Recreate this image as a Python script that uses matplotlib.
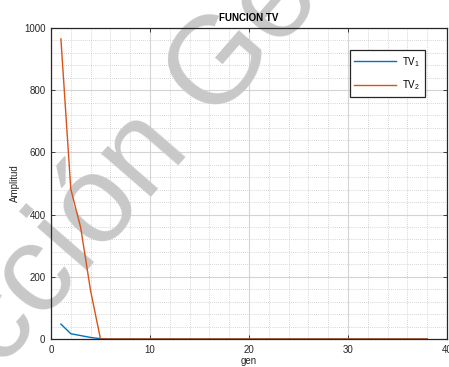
import numpy as np
import matplotlib
matplotlib.use("Agg")
import matplotlib.pyplot as plt
from matplotlib.ticker import MultipleLocator

plt.rcParams["font.family"] = ["Liberation Sans", "DejaVu Sans"]
plt.rcParams["mathtext.fontset"] = "custom"
plt.rcParams["mathtext.rm"] = "Liberation Sans"
plt.rcParams["mathtext.it"] = "Liberation Sans"

# datos
gen = np.arange(1, 39)
tv1 = [48, 17, 11, 5, 1, 0, 0, 0, 0, 0,
       0, 0, 0, 0, 0, 0, 0, 0, 0, 0,
       0, 0, 0, 0, 0, 0, 0, 0, 0, 0,
       0, 0, 0, 0, 0, 0, 0, 0]
tv2 = [965, 482, 358, 155, 0, 0, 0, 0, 0, 0,
       0, 0, 0, 0, 0, 0, 0, 0, 0, 0,
       0, 0, 0, 0, 0, 0, 0, 0, 0, 0,
       0, 0, 0, 0, 0, 0, 0, 0]
labels = [r"TV$_1$", r"TV$_2$"]
colors = ["#0072BD", "#D95319"]

fig = plt.figure(figsize=(4.49, 3.67), dpi=100)
pos = [51 / 449, 1 - 339 / 367, 396 / 449, 311 / 367]

# fondo con rejilla
ax_bg = fig.add_axes(pos, zorder=0)
ax_bg.set_xlim(0, 40)
ax_bg.set_ylim(0, 1000)
ax_bg.xaxis.set_major_locator(MultipleLocator(10))
ax_bg.xaxis.set_minor_locator(MultipleLocator(2))
ax_bg.yaxis.set_major_locator(MultipleLocator(200))
ax_bg.yaxis.set_minor_locator(MultipleLocator(40))
ax_bg.grid(which="major", color="#d4d4d4", lw=0.8, ls="-")
ax_bg.grid(which="minor", color="#c8c8c8", lw=0.6, ls=(0, (1, 1.5)))
ax_bg.tick_params(which="both", length=0, labelleft=False, labelbottom=False)
for s in ax_bg.spines.values():
    s.set_visible(False)

# marca de agua
fig.text(0.421, 0.583, "Selección Genética", fontsize=90, color="#c8c8c8",
         rotation=49, rotation_mode="anchor", ha="center", va="baseline",
         zorder=1)

ax = fig.add_axes(pos, zorder=2)
ax.patch.set_alpha(0)
ax.plot(gen, tv1, color=colors[0], lw=1.0, label=labels[0])
ax.plot(gen, tv2, color=colors[1], lw=1.0, label=labels[1])
ax.set_xlim(0, 40)
ax.set_ylim(0, 1000)
ax.xaxis.set_major_locator(MultipleLocator(10))
ax.yaxis.set_major_locator(MultipleLocator(200))
ax.tick_params(direction="in", length=3, width=0.6, top=True, right=True,
               labelsize=7, labelcolor="#262626", color="#262626", pad=4)
for s in ax.spines.values():
    s.set_color("#262626")
    s.set_linewidth(0.9)
ax.set_title("FUNCION TV", fontsize=7, fontweight="bold", pad=5)
ax.set_xlabel("gen", fontsize=7, labelpad=1, color="#262626")
ax.set_ylabel("Amplitud", fontsize=7, labelpad=3, color="#262626")

leg = ax.legend(loc="upper right", bbox_to_anchor=(425 / 449, 1 - 50 / 367),
                bbox_transform=fig.transFigure, fontsize=7, handlelength=4.3,
                labelspacing=1.0, borderpad=0.5, fancybox=False, framealpha=1,
                edgecolor="#262626", borderaxespad=0, handletextpad=0.6)
leg.get_frame().set_linewidth(0.9)

fig.savefig("out.png", dpi=100)
